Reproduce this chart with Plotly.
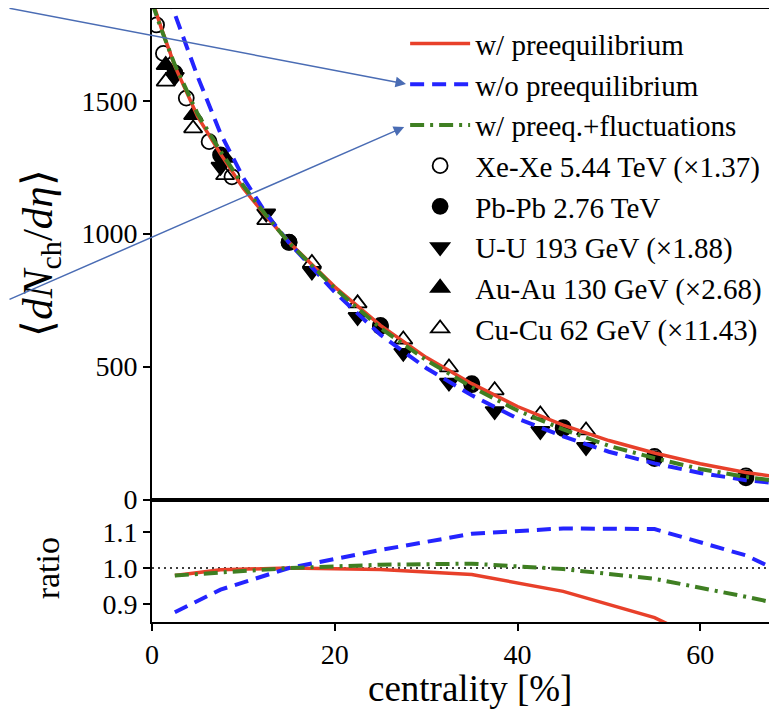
import plotly.graph_objects as go

# ---------------- data ----------------
# model curves (top panel)
model_x = [0, 1, 2.5, 5, 7.5, 10, 12.5, 15, 20, 25, 30, 35, 40, 45, 50, 55, 60, 65, 70]
red_y   = [1880, 1775, 1630, 1440, 1300, 1170, 1065, 968, 800, 655, 535, 436, 350, 280, 222, 175, 135, 102, 78]
blue_y  = [2050, 1960, 1826, 1590, 1377, 1210, 1075, 966, 780, 620, 495, 392, 305, 238, 180, 136, 100, 73, 55]
green_y = [1870, 1770, 1635, 1450, 1310, 1180, 1068, 966, 795, 645, 525, 423, 335, 264, 202, 156, 115, 85, 63]

# experimental data
xexe_x = [0.5, 1.25, 3.75, 6.25, 8.75, 15, 25, 35, 45, 55, 65]
xexe_y = [1785, 1678, 1510, 1346, 1214, 967, 655, 432, 271, 162, 89]

pbpb_x = [2.5, 7.5, 15, 25, 35, 45, 55, 65]
pbpb_y = [1605, 1296, 968, 651, 436, 267, 154, 82]

uu_x = [2.5, 7.5, 12.5, 17.5, 22.5, 27.5, 32.5, 37.5, 42.5, 47.5]
uu_y = [1590, 1252, 1076, 858, 687, 552, 440, 333, 258, 198]

auau_x = [1.5, 4.5, 8.0]
auau_y = [1634, 1446, 1285]

cucu_x = [1.5, 4.5, 8.0, 12.5, 17.5, 22.5, 27.5, 32.5, 37.5, 42.5, 47.5]
cucu_y = [1572, 1396, 1220, 1051, 890, 738, 602, 497, 411, 320, 260]

# ratio panel (data / model at Pb-Pb centralities)
ratio_x     = [2.5, 7.5, 15, 25, 35, 45, 55, 65, 75]
ratio_red   = [0.979, 0.995, 1.0, 0.996, 0.982, 0.935, 0.862, 0.74, 0.62]
ratio_blue  = [0.877, 0.94, 1.0, 1.05, 1.095, 1.11, 1.108, 1.035, 0.915]
ratio_green = [0.979, 0.988, 1.0, 1.009, 1.012, 0.997, 0.97, 0.92, 0.867]

x_ticks = [0, 20, 40, 60]
y_ticks = [0, 500, 1000, 1500]
r_ticks = [0.9, 1.0, 1.1]

RED = "#e8402a"
BLUE = "#2424ff"
GREEN = "#3f7f22"
ARROW = "#4a6cb4"
FONT = "Liberation Serif"

fig = go.Figure()

def mk(name, xs, ys, symbol, size, rank):
    fig.add_trace(go.Scatter(
        x=xs, y=ys, mode="markers", name=name, legendrank=rank,
        marker=dict(symbol=symbol, size=size, color="black",
                    line=dict(color="black", width=1.8)),
        xaxis="x", yaxis="y"))

mk("Xe-Xe 5.44 TeV (×1.37)", xexe_x, xexe_y, "circle-open", 15, 4)
mk("Pb-Pb 2.76 TeV", pbpb_x, pbpb_y, "circle", 15, 5)
mk("U-U 193 GeV (×1.88)", uu_x, uu_y, "triangle-down", 16, 6)
mk("Au-Au 130 GeV (×2.68)", auau_x, auau_y, "triangle-up", 16, 7)
mk("Cu-Cu 62 GeV (×11.43)", cucu_x, cucu_y, "triangle-up-open", 16, 8)

fig.add_trace(go.Scatter(x=model_x, y=red_y, mode="lines", name="w/ preequilibrium",
                         legendrank=1, line=dict(color=RED, width=3.5), xaxis="x", yaxis="y"))
fig.add_trace(go.Scatter(x=model_x, y=blue_y, mode="lines", name="w/o preequilibrium",
                         legendrank=2, line=dict(color=BLUE, width=4, dash="14px,8px"),
                         xaxis="x", yaxis="y"))
fig.add_trace(go.Scatter(x=model_x, y=green_y, mode="lines", name="w/ preeq.+fluctuations",
                         legendrank=3, line=dict(color=GREEN, width=4, dash="14px,6px,3px,6px"),
                         xaxis="x", yaxis="y"))

# ratio panel
fig.add_trace(go.Scatter(x=[0, 80], y=[1.0, 1.0], mode="lines", showlegend=False,
                         line=dict(color="black", width=1.6, dash="2px,4px"),
                         xaxis="x2", yaxis="y2"))
fig.add_trace(go.Scatter(x=ratio_x, y=ratio_red, mode="lines", showlegend=False,
                         line=dict(color=RED, width=3.5), xaxis="x2", yaxis="y2"))
fig.add_trace(go.Scatter(x=ratio_x, y=ratio_blue, mode="lines", showlegend=False,
                         line=dict(color=BLUE, width=4, dash="14px,8px"), xaxis="x2", yaxis="y2"))
fig.add_trace(go.Scatter(x=ratio_x, y=ratio_green, mode="lines", showlegend=False,
                         line=dict(color=GREEN, width=4, dash="14px,6px,3px,6px"),
                         xaxis="x2", yaxis="y2"))

XR = [0, 68.4]
H_SPLIT = 0.1997
tickfont = dict(family=FONT, size=28, color="black")

# the page body adds an 8px margin, so the figure is drawn 8px smaller
fig.update_layout(
    width=769, height=703,
    margin=dict(l=144, r=0, t=1, b=89),
    paper_bgcolor="white", plot_bgcolor="white",
    font=dict(family=FONT, size=28, color="black"),
    showlegend=True,
    legend=dict(x=0.405, y=0.985, xanchor="left", yanchor="top",
                bgcolor="rgba(0,0,0,0)", font=dict(family=FONT, size=29, color="black"),
                itemwidth=60, tracegroupgap=0),
    xaxis=dict(domain=[0, 1], range=XR, anchor="y", showticklabels=False, ticks="",
               showline=True, linecolor="black", linewidth=1.6, mirror=True,
               showgrid=False, zeroline=False, matches="x2"),
    yaxis=dict(domain=[H_SPLIT, 1], range=[0, 1845], anchor="x", tickvals=y_ticks,
               ticks="outside", ticklen=7, tickwidth=1.5, tickcolor="black",
               tickfont=tickfont, showline=True, linecolor="black", linewidth=1.6,
               showgrid=False, zeroline=False),
    xaxis2=dict(domain=[0, 1], range=XR, anchor="y2", tickvals=x_ticks,
                ticks="outside", ticklen=7, tickwidth=1.5, tickcolor="black",
                tickfont=tickfont, showline=True, linecolor="black", linewidth=1.6,
                mirror=True, showgrid=False, zeroline=False),
    yaxis2=dict(domain=[0, H_SPLIT], range=[0.85, 1.19], anchor="x2", tickvals=r_ticks,
                tickformat=".1f", ticks="outside", ticklen=7, tickwidth=1.5, tickcolor="black",
                tickfont=tickfont, showline=True, linecolor="black", linewidth=1.6,
                showgrid=False, zeroline=False),
)

# axis titles as annotations
fig.add_annotation(text="⟨<i>dN</i><sub>ch</sub>/<i>dη</i>⟩", xref="paper", yref="paper",
                   x=-0.179, y=0.601, xanchor="center", yanchor="middle", textangle=-90,
                   showarrow=False, font=dict(family=FONT, size=43, color="black"))
fig.add_annotation(text="ratio", xref="paper", yref="paper",
                   x=-0.168, y=0.0876, xanchor="center", yanchor="middle", textangle=-90,
                   showarrow=False, font=dict(family=FONT, size=34, color="black"))
fig.add_annotation(text="centrality [%]", xref="paper", yref="paper",
                   x=0.509, y=-0.108, xanchor="center", yanchor="middle",
                   showarrow=False, font=dict(family=FONT, size=37, color="black"))

# blue arrows pointing at legend entries
fig.add_annotation(x=27.8, y=1563, xref="x", yref="y", ax=-406, ay=-81, axref="pixel",
                   ayref="pixel", text="", showarrow=True, arrowhead=2, arrowsize=1.4,
                   arrowwidth=1.5, arrowcolor=ARROW, standoff=0, startstandoff=0)
fig.add_annotation(x=27.6, y=1401, xref="x", yref="y", ax=-404, ay=173, axref="pixel",
                   ayref="pixel", text="", showarrow=True, arrowhead=2, arrowsize=1.4,
                   arrowwidth=1.5, arrowcolor=ARROW, standoff=0, startstandoff=0)

fig.write_html("out.html")
